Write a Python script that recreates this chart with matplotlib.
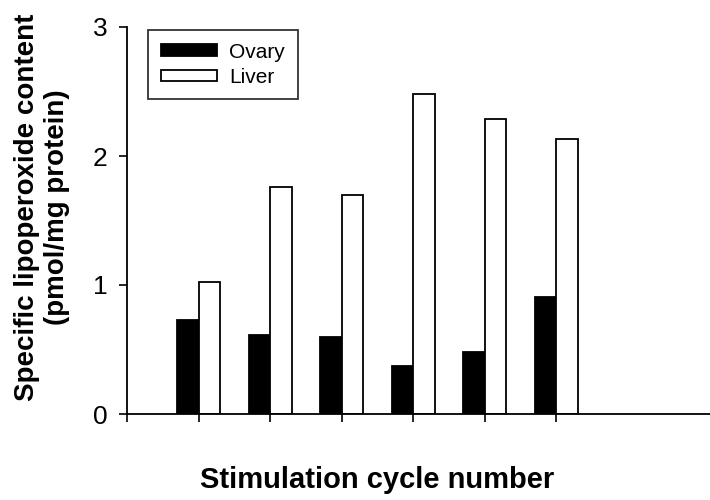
import matplotlib
matplotlib.use('Agg')
import matplotlib.pyplot as plt
import numpy as np

plt.rcParams['font.family'] = ['Liberation Sans', 'DejaVu Sans']

# data
cycles = [1, 2, 3, 4, 5, 6]
ovary = [0.73, 0.61, 0.60, 0.37, 0.48, 0.91]
liver = [1.02, 1.76, 1.70, 2.48, 2.29, 2.13]

fig = plt.figure(figsize=(7.1, 5.0), dpi=100)
ax = fig.add_axes([0.179, 0.172, 0.826, 0.774])

x = np.array(cycles)
w = 0.3
ax.bar(x - w / 2, ovary, w, color='black', edgecolor='black', linewidth=1.3, label='Ovary')
ax.bar(x + w / 2, liver, w, color='white', edgecolor='black', linewidth=1.3, label='Liver')

ax.set_xlim(0, 8.2)
ax.set_ylim(0, 3)
ax.set_xticks(range(0, 7))
ax.set_xticklabels([])
ax.set_yticks([0, 1, 2, 3])
ax.tick_params(axis='y', labelsize=19, length=6, width=1.2, direction='out', pad=8)
ax.tick_params(axis='x', length=6, width=1.2, direction='out')
for s in ['top', 'right']:
    ax.spines[s].set_visible(False)
ax.spines['left'].set_linewidth(1.3)
ax.spines['bottom'].set_linewidth(1.3)

ax.set_ylabel('Specific lipoperoxide content\n(pmol/mg protein)', fontsize=20, fontweight='bold')
ax.yaxis.set_label_coords(-0.097, 0.535)
ax.set_xlabel('Stimulation cycle number', fontsize=21, fontweight='bold')
ax.xaxis.set_label_coords(0.427, -0.134)

leg = ax.legend(loc='upper left', bbox_to_anchor=(0.036, 0.992), fontsize=15, frameon=True, fancybox=False,
                handlelength=2.7, handleheight=0.5, borderpad=0.6, labelspacing=0.3, handletextpad=0.6,
                borderaxespad=0)
leg.get_frame().set_edgecolor('black')
leg.get_frame().set_linewidth(1.3)

fig.savefig('out.png', dpi=100)
